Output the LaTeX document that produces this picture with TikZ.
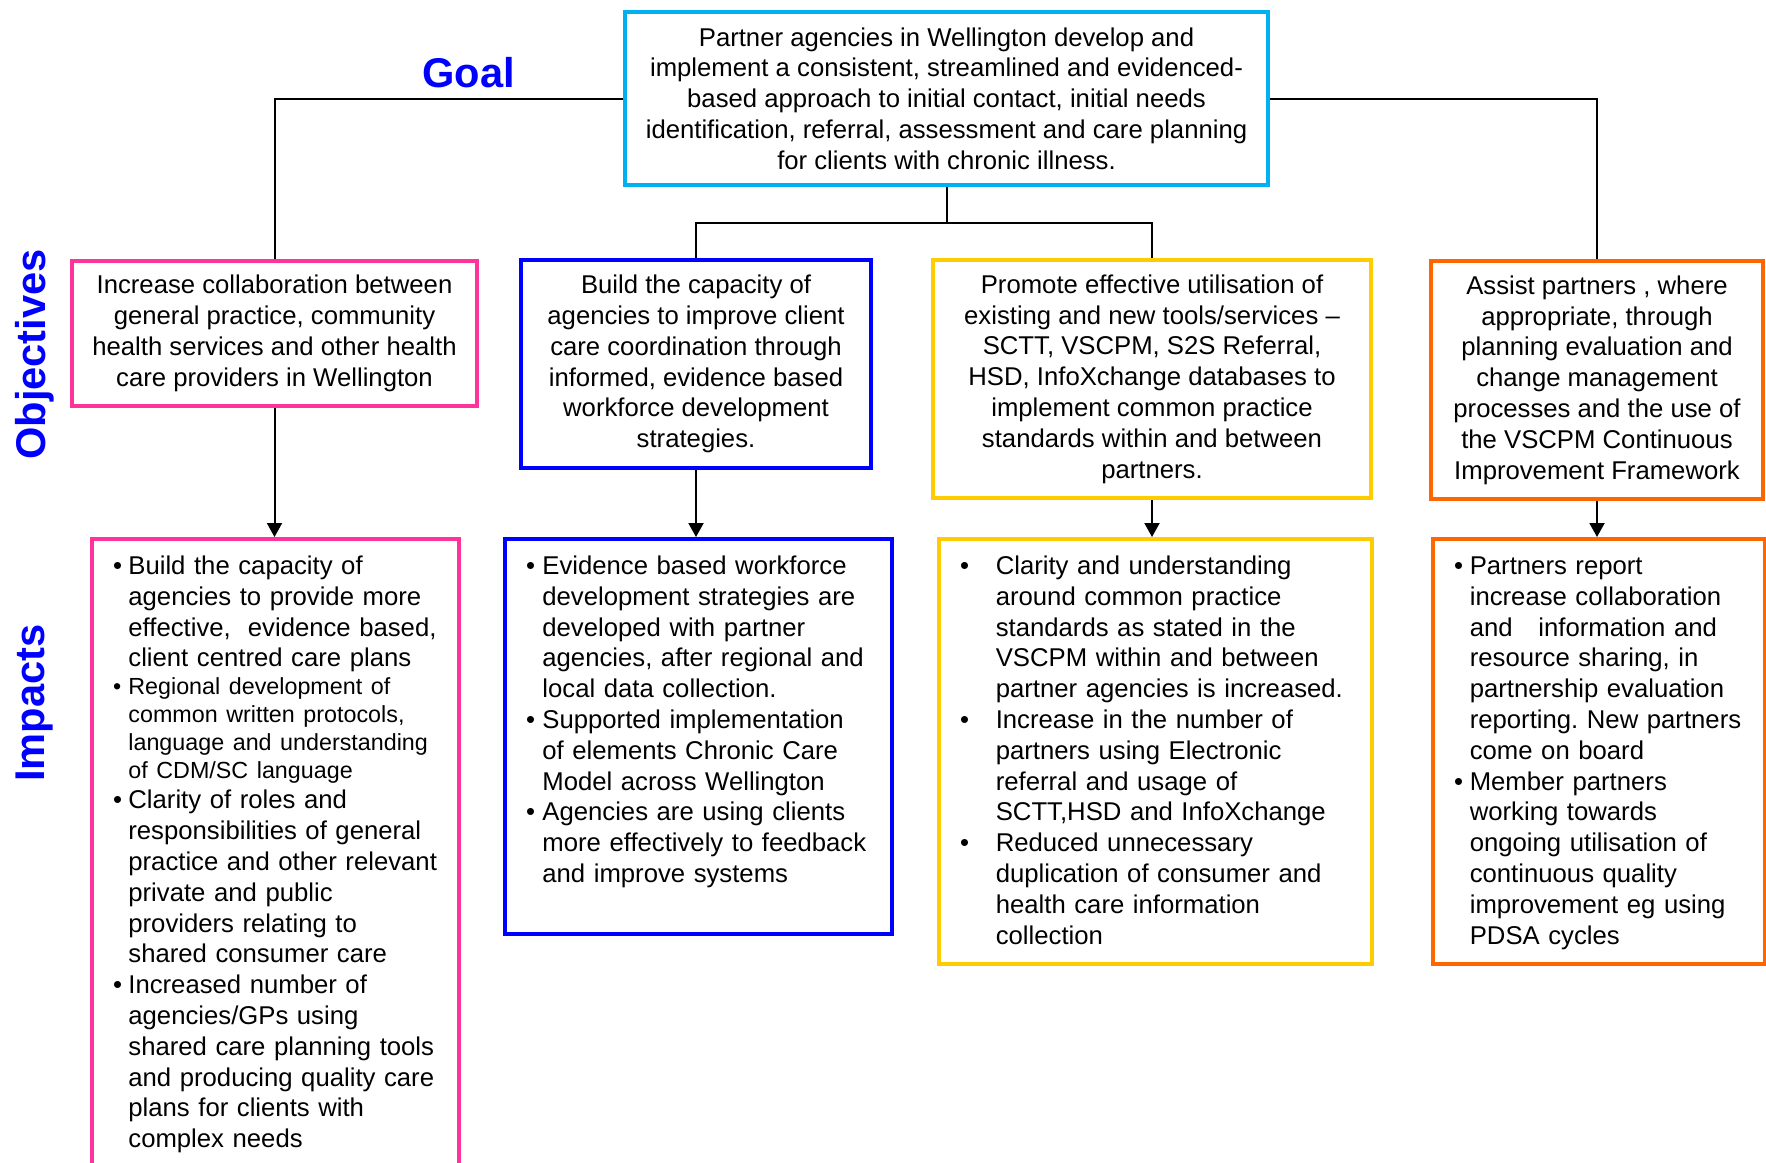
\documentclass[tikz,border=0pt]{standalone}
\usepackage{fontspec}
\setmainfont{Liberation Sans}
\usepackage{tikz}
\usetikzlibrary{arrows.meta,positioning,calc}
\definecolor{goalcyan}    {HTML}{00B0F0}
\definecolor{collabpink}  {HTML}{FF3399}
\definecolor{capblue}     {HTML}{0000FF}
\definecolor{toolamber}   {HTML}{FFCC00}
\definecolor{assistorange}{HTML}{FF6600}
\definecolor{headblue}    {HTML}{0000FF}

\newlength{\bulind}
\newlength{\buloff}
\newcommand{\bulsetup}[2]{\setlength{\buloff}{#1}\setlength{\bulind}{#2}\let\\\newline}
\newcommand{\bul}{\noindent\hangindent=\bulind\hangafter=1\makebox[\bulind][l]{\hspace{\buloff}\textbullet}}
\newcommand{\bodyfont}{\fontsize{12.85pt}{15.4pt}\selectfont\frenchspacing}
\newcommand{\smallbody}{\fontsize{11.65pt}{13.9pt}\selectfont}

\begin{document}
\begin{tikzpicture}[x=0.5pt,y=-0.5pt,
  goalbox/.style={draw=#1, line width=2pt, align=center, font=\bodyfont, inner sep=0pt},
  objbox/.style={goalbox=#1, execute at begin node={\rule{0pt}{13.5pt}}},
  impbox/.style={draw=#1, line width=2pt, anchor=north west, inner sep=0pt,
                 font=\bodyfont, text height=17.75pt},
  heading/.style={font=\fontsize{20.8pt}{24pt}\selectfont\bfseries, text=headblue},
  link/.style={black, line width=1pt},
  arrowlink/.style={link, -{Triangle[length=7pt,width=7.5pt]}}]
 \useasboundingbox (0,0) rectangle (1766,1162);
 \clip (0,0) rectangle (1766,1162);

 \node[heading, anchor=base] (goalhd) at (468.5,87) {Goal};
 \node[heading, rotate=90, anchor=base] (objhd) at (45,354.5) {Objectives};
 \node[heading, rotate=90, anchor=base] (imphd) at (44,703) {Impacts};

 \node[goalbox=goalcyan, minimum width=321.5pt, minimum height=86.5pt] (goal) at (946.5,98.5)
  {Partner agencies in Wellington develop and\\
   implement a consistent, streamlined and evidenced-\\
   based approach to initial contact, initial needs\\
   identification, referral, assessment and care planning\\
   for clients with chronic illness.};

 \node[objbox=collabpink, minimum width=202.5pt, minimum height=72.5pt] (colobj) at (274.5,333.5)
  {Increase collaboration between\\general practice, community\\
   health services and other health\\care providers in Wellington};
 \node[objbox=capblue, minimum width=175pt, minimum height=104pt] (capobj) at (696,364)
  {Build the capacity of\\agencies to improve client\\care coordination through\\
   informed, evidence based\\workforce development\\strategies.};
 \node[objbox=toolamber, minimum width=219pt, minimum height=119pt] (toolobj) at (1152,379)
  {Promote effective utilisation of\\existing and new tools/services –\\
   SCTT, VSCPM, S2S Referral,\\HSD, InfoXchange databases to\\
   implement common practice\\standards within and between\\partners.};
 \node[objbox=assistorange, minimum width=166pt, minimum height=119pt] (assobj) at (1597,380)
  {Assist partners , where\\appropriate, through\\planning evaluation and\\
   change management\\processes and the use of\\the VSCPM Continuous\\
   Improvement Framework};

 \node[impbox=collabpink, text width=183.5pt, text depth=313.75pt] (colimp) at (90,537)
  {\bulsetup{10.5pt}{18.2pt}%
   \bul Build the capacity of\\agencies to provide more\\effective,\ \ evidence based,\\
        client centred care plans
   \par{\smallbody\bul Regional development of\\common written protocols,\\
        language and understanding\\of CDM/SC language\par}
   \bul Clarity of roles and\\responsibilities of general\\practice and other relevant\\
        private and public\\providers relating to\\shared consumer care
   \par\bul Increased number of\\agencies/GPs using\\shared care planning tools\\
        and producing quality care\\plans for clients with\\complex needs\par};
 \node[impbox=capblue, text width=193.5pt, text depth=179.75pt] (capimp) at (503,537)
  {\bulsetup{10.5pt}{18.7pt}%
   \bul Evidence based workforce\\development strategies are\\developed with partner\\
        agencies, after regional and\\local data collection.
   \par\bul Supported implementation\\of elements Chronic Care\\Model across Wellington
   \par\bul Agencies are using clients\\more effectively to feedback\\and improve systems\par};
 \node[impbox=toolamber, text width=216.5pt, text depth=194.75pt] (toolimp) at (937,537)
  {\bulsetup{10.5pt}{28.4pt}%
   \bul Clarity and understanding\\around common practice\\standards as stated in the\\
        VSCPM within and between\\partner agencies is increased.
   \par\bul Increase in the number of\\partners using Electronic\\referral and usage of\\
        SCTT,HSD and InfoXchange
   \par\bul Reduced unnecessary\\duplication of consumer and\\health care information\\collection\par};
 \node[impbox=assistorange, text width=166pt, text depth=194.75pt] (assimp) at (1431,537)
  {\bulsetup{10.5pt}{18.4pt}%
   \bul Partners report\\increase collaboration\\and\ \ \ information and\\
        resource sharing, in\\partnership evaluation\\reporting. New partners\\come on board
   \par\bul Member partners\\working towards\\ongoing utilisation of\\continuous quality\\
        improvement eg using\\PDSA cycles\par};

 \coordinate (fork) at (946.5,223);
 \draw[link] (goal.west) -| (colobj.north);
 \draw[link] (goal.east) -| (assobj.north);
 \draw[link] (goal.south) -- (fork);
 \draw[link] (capobj.north) |- (fork) -| (toolobj.north);

 \draw[arrowlink] (colobj.south) -- (colobj.south |- colimp.north);
 \draw[arrowlink] (capobj.south) -- (capobj.south |- capimp.north);
 \draw[arrowlink] (toolobj.south) -- (toolobj.south |- toolimp.north);
 \draw[arrowlink] (assobj.south) -- (assobj.south |- assimp.north);
\end{tikzpicture}
\end{document}
